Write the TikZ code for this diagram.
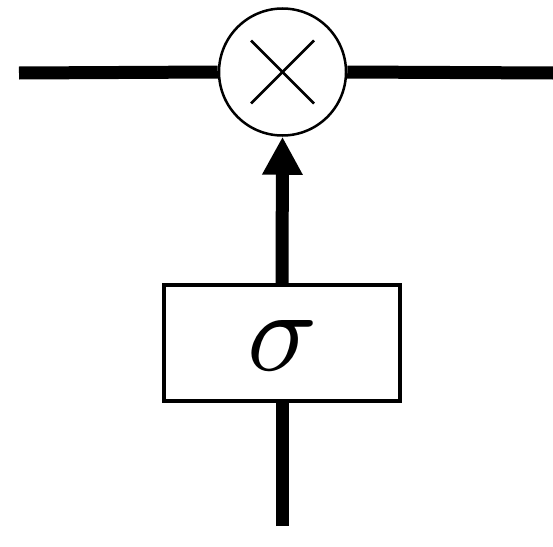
\documentclass[tikz,border=0pt]{standalone}
\usetikzlibrary{arrows.meta,calc}
\begin{document}
\begin{tikzpicture}[x=1pt,y=-1pt,
  wire/.style={line width=13pt},
  mult/.style={circle,draw,line width=2.5pt,inner sep=0pt,minimum size=127pt,fill=white},
  gate/.style={rectangle,draw,line width=4pt,inner sep=0pt,minimum width=236pt,minimum height=116pt,fill=white},
  cross/.style={line width=2.5pt},
  arr/.style={wire,-{Triangle[width=38pt,length=38pt]}}]
\useasboundingbox (0,0) rectangle (553,546);
\node[mult] (m) at (282.5,72) {};
\node[gate] (g) at (282,343) {};
\node[scale=11.6,inner sep=0pt] (s) at (283,346) {$\sigma$};
\coordinate (lin) at (19,73);
\coordinate (rout) at (553,73);
\coordinate (bin) at (282,526);
\draw[wire] (lin) -- (m.west);
\draw[wire] (m.east) -- (rout);
\draw[cross] ($(m.center)+(-31.5,-31.5)$) -- ($(m.center)+(31.5,31.5)$);
\draw[cross] ($(m.center)+(-31.5,31.5)$) -- ($(m.center)+(31.5,-31.5)$);
\draw[arr] (g.north) -- (m.south);
\draw[wire] (bin) -- (g.south);
\end{tikzpicture}
\end{document}
